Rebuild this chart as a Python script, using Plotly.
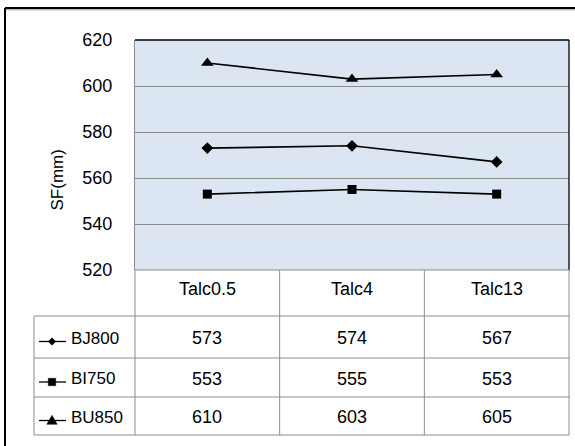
import plotly.graph_objects as go

categories = ["Talc0.5", "Talc4", "Talc13"]
series_names = ["BJ800", "BI750", "BU850"]
bj800 = [573, 574, 567]
bi750 = [553, 555, 553]
bu850 = [610, 603, 605]
y_ticks = [520, 540, 560, 580, 600, 620]
y_title = "SF(mm)"

series_values = [bj800, bi750, bu850]
symbols = ["diamond", "square", "triangle-up"]
sizes = [9, 9, 11]

W, H = 575, 446
def px(x): return x / W
def py(y): return 1 - y / H

L, R, T, B = 135, 569, 40, 270
row_edges = [270, 316, 358, 397, 435]
tbl_left = 34
col_w = (R - L) / 3
col_edges = [L + i * col_w for i in range(4)]

FONT = "Arial, 'Liberation Sans', sans-serif"
GRID = "#8c8c8c"
TBL = "#8c8c8c"

fig = go.Figure()
for name, vals, sym, sz in zip(series_names, series_values, symbols, sizes):
    fig.add_trace(go.Scatter(
        x=categories, y=vals, mode="lines+markers", name=name,
        line=dict(color="black", width=1.6),
        marker=dict(symbol=sym, size=sz, color="black"),
        showlegend=False, hoverinfo="skip"))

shapes = []
shapes.append(dict(type="rect", xref="paper", yref="paper", x0=px(L), x1=px(R),
                   y0=py(B), y1=py(T), fillcolor="#DCE6F2", line=dict(width=0), layer="below"))
shapes.append(dict(type="line", xref="paper", yref="paper", x0=px(L), x1=px(R), y0=py(T), y1=py(T),
                   line=dict(color="black", width=1.3)))
shapes.append(dict(type="line", xref="paper", yref="paper", x0=px(R), x1=px(R), y0=py(T), y1=py(B),
                   line=dict(color="black", width=1.3)))
for k, yv in enumerate(row_edges):
    x0 = L if k == 0 else tbl_left
    shapes.append(dict(type="line", xref="paper", yref="paper", x0=px(x0), x1=px(R),
                       y0=py(yv), y1=py(yv), line=dict(color=TBL, width=1)))
shapes.append(dict(type="line", xref="paper", yref="paper", x0=px(tbl_left), x1=px(tbl_left),
                   y0=py(row_edges[1]), y1=py(row_edges[-1]), line=dict(color=TBL, width=1)))
for xv in col_edges:
    shapes.append(dict(type="line", xref="paper", yref="paper", x0=px(xv), x1=px(xv),
                       y0=py(row_edges[0]), y1=py(row_edges[-1]), line=dict(color=TBL, width=1)))

# legend keys in the table's first column
def key_path(sym, cx, cy, s):
    if sym == "diamond":
        pts = [(cx - s, cy), (cx, cy - s), (cx + s, cy), (cx, cy + s)]
    elif sym == "square":
        pts = [(cx - s, cy - s), (cx + s, cy - s), (cx + s, cy + s), (cx - s, cy + s)]
    else:
        pts = [(cx - s * 1.1, cy + s * 0.8), (cx, cy - s * 1.1), (cx + s * 1.1, cy + s * 0.8)]
    return "M " + " L ".join(f"{px(a):.5f},{py(b):.5f}" for a, b in pts) + " Z"

for i, (sym, sz) in enumerate(zip(symbols, sizes)):
    yc = (row_edges[i + 1] + row_edges[i + 2]) / 2 + 4.5
    shapes.append(dict(type="line", xref="paper", yref="paper", x0=px(39), x1=px(66),
                       y0=py(yc), y1=py(yc), line=dict(color="black", width=1.3)))
    shapes.append(dict(type="path", xref="paper", yref="paper", path=key_path(sym, 52, yc, sz / 2 - 0.8),
                       fillcolor="black", line=dict(color="black", width=0.5)))

# keep the right and bottom margins of the picture blank
shapes.append(dict(type="rect", xref="paper", yref="paper", x0=px(570.5), x1=1,
                   y0=0, y1=py(11), fillcolor="white", line=dict(width=0)))
shapes.append(dict(type="rect", xref="paper", yref="paper", x0=px(7), x1=1,
                   y0=0, y1=py(437.5), fillcolor="white", line=dict(width=0)))

# outer chart frame: only left and top edges are inside the picture
shapes.append(dict(type="line", xref="paper", yref="paper", x0=px(5), x1=px(5),
                   y0=0, y1=py(8), line=dict(color="black", width=2)))
shapes.append(dict(type="line", xref="paper", yref="paper", x0=px(5), x1=1,
                   y0=py(8), y1=py(8), line=dict(color="black", width=2)))
shapes.append(dict(type="line", xref="paper", yref="paper", x0=px(6), x1=1,
                   y0=py(9.8), y1=py(9.8), line=dict(color="#9a9a9a", width=1)))

annotations = []
for c in categories:
    annotations.append(dict(x=c, xref="x", y=py(289), yref="paper", text=c, showarrow=False,
                            font=dict(family=FONT, size=18, color="black"), yanchor="middle"))
for i, (name, vals) in enumerate(zip(series_names, series_values)):
    yc = (row_edges[i + 1] + row_edges[i + 2]) / 2 + 1
    annotations.append(dict(x=px(69), xref="paper", y=py(yc), yref="paper", text=name,
                            showarrow=False, xanchor="left", yanchor="middle",
                            font=dict(family=FONT, size=17, color="black")))
    for c, v in zip(categories, vals):
        annotations.append(dict(x=c, xref="x", y=py(yc), yref="paper", text=str(v),
                                showarrow=False, yanchor="middle",
                                font=dict(family=FONT, size=18, color="black")))
annotations.append(dict(x=px(45), xref="paper", y=py(180), yref="paper", text=y_title,
                        textangle=-90, showarrow=False,
                        font=dict(family=FONT, size=17, color="black")))

fig.update_layout(
    width=W, height=H, margin=dict(l=0, r=0, t=0, b=0, pad=0, autoexpand=False),
    paper_bgcolor="white", plot_bgcolor="rgba(0,0,0,0)",
    xaxis=dict(domain=[px(L), px(R)], range=[-0.5, 2.5], showticklabels=False, automargin=False,
               showgrid=False, zeroline=False, showline=False, ticks=""),
    yaxis=dict(domain=[py(B), py(T)], range=[520, 620], tickvals=y_ticks, automargin=False,
               showgrid=True, gridcolor=GRID, gridwidth=1, zeroline=False,
               showline=True, linecolor=GRID, ticks="", ticklabelstandoff=18,
               tickfont=dict(family=FONT, size=18, color="black")),
    shapes=shapes, annotations=annotations,
)

fig.write_html("out.html", config={"displayModeBar": False},
               post_script="document.documentElement.style.overflow='hidden';"
                           "document.body.style.overflow='hidden';document.body.style.margin='0';")
